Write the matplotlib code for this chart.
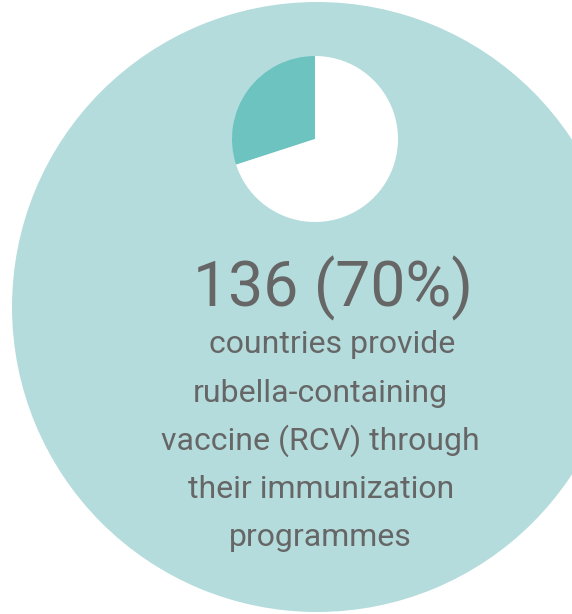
import matplotlib
matplotlib.use("Agg")
import matplotlib.pyplot as plt

# share of countries: teal wedge vs white remainder
shares = [30, 70]
share_colors = ["#6cc3c0", "#ffffff"]
headline = "136 (70%)"
body_lines = [
    "countries provide",
    "rubella-containing",
    "vaccine (RCV) through",
    "their immunization",
    "programmes",
]

W, H = 572, 614
BG_CIRCLE = "#b5dcdc"
TEXT = "#666666"

fig = plt.figure(figsize=(W / 100, H / 100), dpi=100)
ax = fig.add_axes([0, 0, 1, 1])

# big backdrop disc (runs off the right edge)
ax.pie([1], colors=[BG_CIRCLE], radius=305, center=(317, H - 307),
       wedgeprops=dict(linewidth=0))
# small pie
ax.pie(shares, colors=share_colors, radius=83, center=(315, H - 139),
       startangle=90, counterclock=True, wedgeprops=dict(linewidth=0))

ax.set_xlim(0, W)
ax.set_ylim(0, H)
ax.set_aspect("equal")
ax.axis("off")

font = ["Roboto", "DejaVu Sans"]
ax.text(333, H - 306.5, headline, ha="center", va="baseline",
        fontsize=45, color=TEXT, family=font)

# line centres measured off the reference (the block is not perfectly centred)
centres = [332, 320, 320, 321, 320]
baselines = [353, 401.5, 449.5, 497.5, 545.5]
for line, xc, yb in zip(body_lines, centres, baselines):
    ax.text(xc, H - yb, line, ha="center", va="baseline",
            fontsize=23, color=TEXT, family=font)

fig.savefig("out.png", dpi=100, facecolor="white")
